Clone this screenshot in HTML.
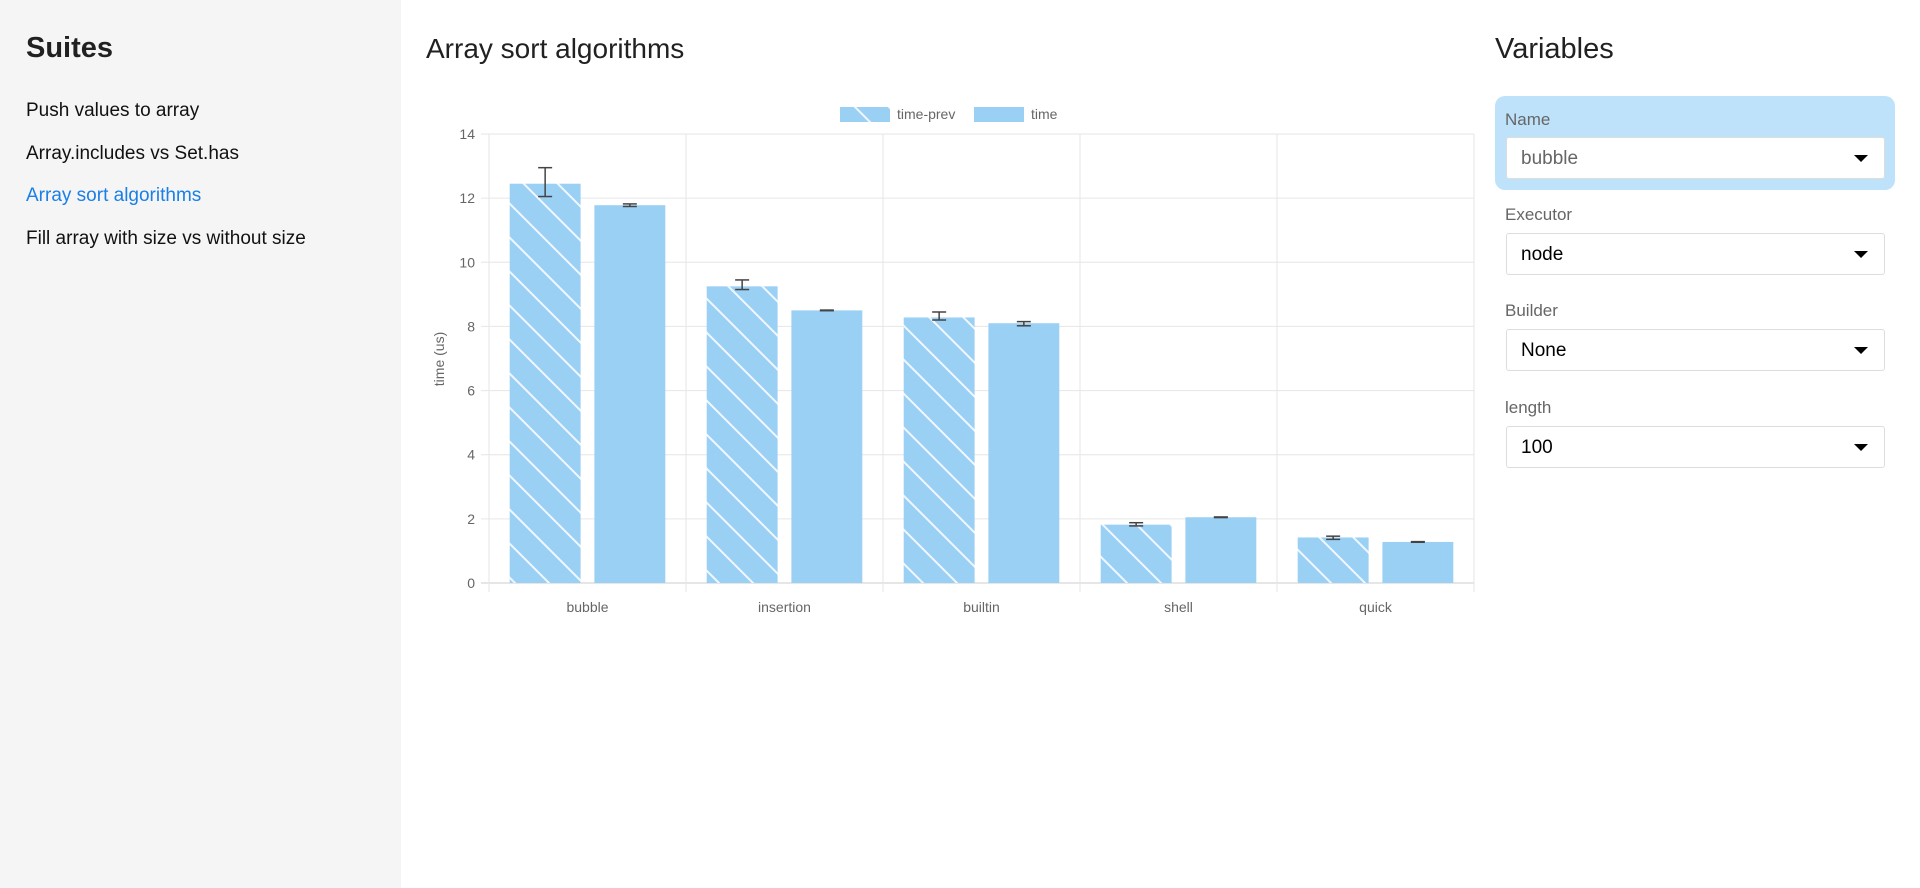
<!DOCTYPE html>
<html><head><meta charset="utf-8"><style>
body{margin:0;width:1920px;height:888px;position:relative;font-family:"Liberation Sans",sans-serif;background:#fff;overflow:hidden;color:#212121}
#side{position:absolute;left:0;top:0;width:401px;height:888px;background:#f5f5f5}
#side h2{position:absolute;left:26px;top:32px;margin:0;font-size:29px;font-weight:bold}
.lk{position:absolute;left:26px;font-size:19px;color:#111}
.lk.act{color:#1a7fe6}
#title{position:absolute;left:426px;top:33px;margin:0;font-size:28px;font-weight:normal}
#vars{position:absolute;left:1495px;top:33px;margin:0;font-size:29px;font-weight:normal}
#hl{position:absolute;left:1495px;top:96px;width:400px;height:94px;background:#bfe2fb;border-radius:10px}
.lbl{position:absolute;left:1505px;font-size:17px;color:#666}
.sel{position:absolute;left:1506px;width:379px;height:42px;background:#fff;border:1px solid #ddd;border-radius:3px;font-size:19px;line-height:42px;box-sizing:border-box;padding-left:14px;color:#000}
.sel:after{content:"";position:absolute;right:16px;top:17px;border-left:7px solid transparent;border-right:7px solid transparent;border-top:7px solid #000}
</style></head><body>
<div id="side">
<h2>Suites</h2>
<div class="lk" style="top:100px">Push values to array</div>
<div class="lk" style="top:143px">Array.includes vs Set.has</div>
<div class="lk act" style="top:185px">Array sort algorithms</div>
<div class="lk" style="top:228px">Fill array with size vs without size</div>
</div>
<h1 id="title">Array sort algorithms</h1>
<h2 id="vars">Variables</h2>
<div id="hl"></div>
<div class="lbl" style="top:110px">Name</div>
<div class="sel" style="top:137px;color:#666">bubble</div>
<div class="lbl" style="top:205px">Executor</div>
<div class="sel" style="top:233px">node</div>
<div class="lbl" style="top:301px">Builder</div>
<div class="sel" style="top:329px">None</div>
<div class="lbl" style="top:398px">length</div>
<div class="sel" style="top:426px">100</div>
<svg id="chart" width="1920" height="888" style="position:absolute;left:0;top:0">
<defs><pattern id="hatch" patternUnits="userSpaceOnUse" width="34" height="34">
<rect width="34" height="34" fill="#9bd0f5"/>
<path d="M0,0 L34,34 M-17,17 L17,51 M17,-17 L51,17" stroke="#fff" stroke-width="2" stroke-opacity="0.85"/>
</pattern></defs>
</svg>
<script>
const categories=["bubble","insertion","builtin","shell","quick"];
const prevValues=[12.45,9.25,8.28,1.82,1.42];
const prevLow=[12.05,9.15,8.2,1.78,1.36];
const prevHigh=[12.95,9.45,8.45,1.88,1.46];
const timeValues=[11.78,8.5,8.1,2.05,1.28];
const timeLow=[11.74,8.49,8.02,2.04,1.27];
const timeHigh=[11.82,8.51,8.15,2.06,1.29];
const yTicks=[0,2,4,6,8,10,12,14];
const svg=document.getElementById('chart');const NS="http://www.w3.org/2000/svg";
const L=489,R=1474,T=134,B=583,yMax=14;
const y=v=>B-(v/yMax)*(B-T);
const band=(R-L)/categories.length;
const x=i=>L+i*band;
function mk(t,a,txt){const e=document.createElementNS(NS,t);for(const k in a)e.setAttribute(k,a[k]);if(txt!==undefined)e.textContent=txt;svg.appendChild(e);return e;}
yTicks.forEach(v=>{
 const g=mk('line',{x1:L-8,x2:R,y1:y(v),y2:y(v),stroke:v===0?'#ccc':'#e6e6e6','stroke-width':1});
 
 
 const t=mk('text',{x:L-14,y:y(v)+5,'text-anchor':'end','font-size':14,fill:'#666'},v);
 
 
});
for(let i=0;i<=categories.length;i++){
 const g=mk('line',{x1:x(i),x2:x(i),y1:T,y2:B+9,stroke:'#e6e6e6','stroke-width':1});
 
 
}
const bw=band*0.36,gap=band*0.035;
function err(cx,lo,hi){
 [[cx,y(hi),cx,y(lo)],[cx-7,y(hi),cx+7,y(hi)],[cx-7,y(lo),cx+7,y(lo)]].forEach(p=>{
  const e=mk('line',{x1:p[0],y1:p[1],x2:p[2],y2:p[3],stroke:'#444','stroke-width':1.5});
  
  
 });
}
categories.forEach((c,i)=>{
 const cx=x(i)+band/2;
 const px=cx-gap-bw;
 const b1=mk('rect',{x:px,y:y(prevValues[i]),width:bw,height:B-y(prevValues[i]),fill:'url(#hatch)'});
 
 
 const b2=mk('rect',{x:cx+gap,y:y(timeValues[i]),width:bw,height:B-y(timeValues[i]),fill:'#9bd0f5'});
 
 
 err(px+bw/2,prevLow[i],prevHigh[i]);
 err(cx+gap+bw/2,timeLow[i],timeHigh[i]);
 const t=mk('text',{x:cx,y:612,'text-anchor':'middle','font-size':14,fill:'#666'},c);
 
 
});
const yt=mk('text',{x:0,y:0,transform:'translate(444,359) rotate(-90)','text-anchor':'middle','font-size':14,fill:'#666'},'time (us)');


const l1=mk('rect',{x:840,y:107,width:50,height:15,fill:'url(#hatch)'});


const lt1=mk('text',{x:897,y:119,'font-size':14,fill:'#666'},'time-prev');


const l2=mk('rect',{x:974,y:107,width:50,height:15,fill:'#9bd0f5'});


const lt2=mk('text',{x:1031,y:119,'font-size':14,fill:'#666'},'time');


</script>
</body></html>
